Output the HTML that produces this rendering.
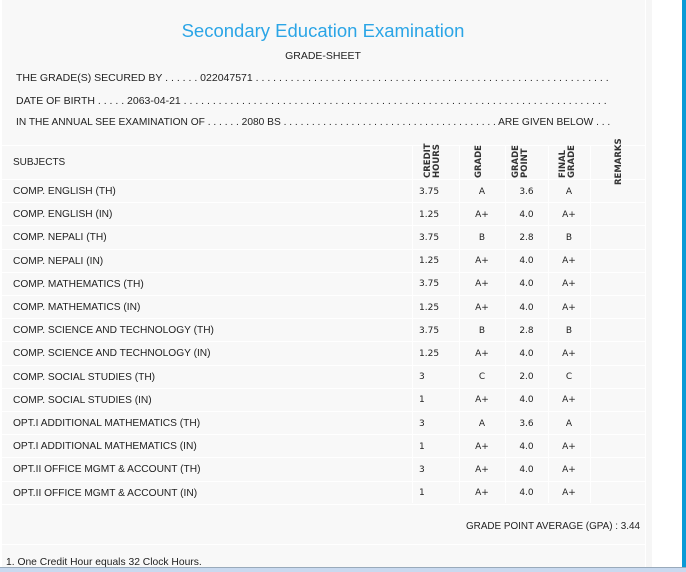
<!DOCTYPE html>
<html><head><meta charset="utf-8"><style>
*{margin:0;padding:0;box-sizing:border-box}
body{width:686px;height:572px;overflow:hidden;background:#fff;position:relative;font-family:"Liberation Sans",sans-serif;color:#222}
#panel{position:absolute;left:0;top:0;width:645px;height:572px;background:#f8f8f8;border-left:2px solid #fff}
#strip{position:absolute;left:646px;top:0;width:6px;height:572px;background:#f6f6f6}
#blue{position:absolute;left:682px;top:0;width:4px;height:572px;background:#0a9bd6}
#bot{position:absolute;left:0;top:567px;width:686px;height:5px;background:#c9d9ef;border-top:1px solid #9ab}
.t{position:absolute;white-space:nowrap;font-size:10.5px;color:#222}
.hl{position:absolute;left:2px;width:643px;height:1px;background:#fff}
.vl{position:absolute;width:1px;background:#fff}
.c{position:absolute;text-align:center;font-family:"DejaVu Sans",sans-serif;font-size:9px;color:#222}
.r{position:absolute;font-family:"DejaVu Sans",sans-serif;font-weight:bold;font-size:8.5px;line-height:9px;color:#333;transform:rotate(-90deg);transform-origin:left top;white-space:nowrap}
</style></head><body>
<div id="panel"></div><div id="strip"></div><div id="blue"></div>
<div class="t" style="left:0;width:646px;text-align:center;top:20px;font-size:18.5px;color:#2ba5e6">Secondary Education Examination</div>
<div class="t" style="left:0;width:646px;text-align:center;top:50px;font-size:10.5px">GRADE-SHEET</div>
<div class="t" style="left:16px;top:72px">THE GRADE(S) SECURED BY . . . . . . 022047571 . . . . . . . . . . . . . . . . . . . . . . . . . . . . . . . . . . . . . . . . . . . . . . . . . . . . . . . . . . . . .</div>
<div class="t" style="left:16px;top:95px">DATE OF BIRTH . . . . . 2063-04-21 . . . . . . . . . . . . . . . . . . . . . . . . . . . . . . . . . . . . . . . . . . . . . . . . . . . . . . . . . . . . . . . . . . . . . . . . .</div>
<div class="t" style="left:16px;top:117px;font-size:10.2px">IN THE ANNUAL SEE EXAMINATION OF . . . . . . 2080 BS . . . . . . . . . . . . . . . . . . . . . . . . . . . . . . . . . . . . . . ARE GIVEN BELOW . . .</div>
<div class="hl" style="top:145px"></div>
<div class="hl" style="top:179px"></div>
<div class="vl" style="left:412px;top:145px;height:358px"></div>
<div class="vl" style="left:459px;top:145px;height:358px"></div>
<div class="vl" style="left:505px;top:145px;height:358px"></div>
<div class="vl" style="left:548px;top:145px;height:358px"></div>
<div class="vl" style="left:590px;top:145px;height:358px"></div>
<div class="t" style="left:13px;top:157px;font-size:10px">SUBJECTS</div>
<div class="r" style="left:424px;top:178px">CREDIT<br>HOURS</div>
<div class="r" style="left:475px;top:178px">GRADE</div>
<div class="r" style="left:512px;top:178px">GRADE<br>POINT</div>
<div class="r" style="left:559px;top:178px">FINAL<br>GRADE</div>
<div class="r" style="left:615px;top:185px">REMARKS</div>
<div id="rows"></div>
<div class="hl" style="top:544px"></div>
<div class="t" style="left:466px;top:521px;font-size:9.9px">GRADE POINT AVERAGE (GPA) : 3.44</div>
<div class="t" style="left:6px;top:557px;font-size:10.3px">1. One Credit Hour equals 32 Clock Hours.</div>
<div id="bot"></div>
<script>
var d=[["COMP. ENGLISH (TH)","3.75","A","3.6","A"],["COMP. ENGLISH (IN)","1.25","A+","4.0","A+"],["COMP. NEPALI (TH)","3.75","B","2.8","B"],["COMP. NEPALI (IN)","1.25","A+","4.0","A+"],["COMP. MATHEMATICS (TH)","3.75","A+","4.0","A+"],["COMP. MATHEMATICS (IN)","1.25","A+","4.0","A+"],["COMP. SCIENCE AND TECHNOLOGY (TH)","3.75","B","2.8","B"],["COMP. SCIENCE AND TECHNOLOGY (IN)","1.25","A+","4.0","A+"],["COMP. SOCIAL STUDIES (TH)","3","C","2.0","C"],["COMP. SOCIAL STUDIES (IN)","1","A+","4.0","A+"],["OPT.I ADDITIONAL MATHEMATICS (TH)","3","A","3.6","A"],["OPT.I ADDITIONAL MATHEMATICS (IN)","1","A+","4.0","A+"],["OPT.II OFFICE MGMT &amp; ACCOUNT (TH)","3","A+","4.0","A+"],["OPT.II OFFICE MGMT &amp; ACCOUNT (IN)","1","A+","4.0","A+"]];
var h="";
for(var i=0;i<d.length;i++){var y=179+i*23.2;var ty=(y+7.5).toFixed(1);
h+='<div class="hl" style="top:'+(y+23.2).toFixed(1)+'px"></div>';
h+='<div class="t" style="left:13px;top:'+(y+7).toFixed(1)+'px;font-size:10.2px">'+d[i][0]+'</div>';
h+='<div class="c" style="left:419px;top:'+ty+'px">'+d[i][1]+'</div>';
h+='<div class="c" style="left:459px;width:46px;top:'+ty+'px">'+d[i][2]+'</div>';
h+='<div class="c" style="left:505px;width:43px;top:'+ty+'px">'+d[i][3]+'</div>';
h+='<div class="c" style="left:548px;width:42px;top:'+ty+'px">'+d[i][4]+'</div>';}
document.getElementById("rows").innerHTML=h;
</script>
</body></html>
